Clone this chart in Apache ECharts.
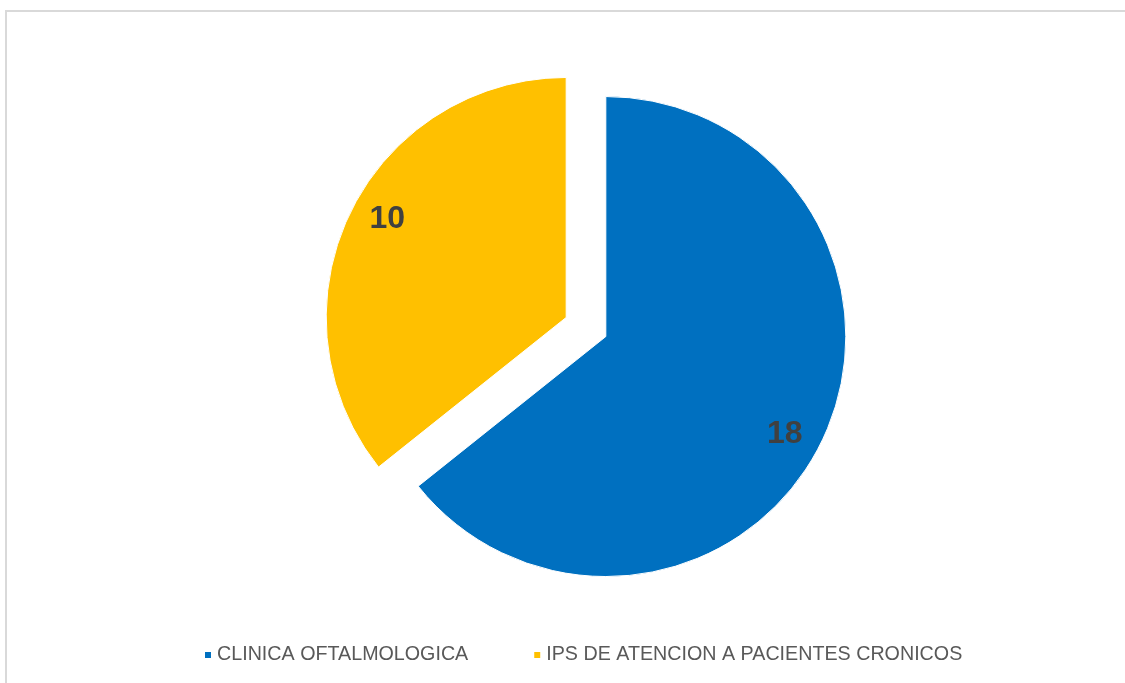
<!DOCTYPE html>
<html>
<head>
<meta charset="utf-8">
<script src="https://cdn.jsdelivr.net/npm/echarts@6/dist/echarts.min.js"></script>
<style>html,body{margin:0;padding:0;background:#fff}#c{width:1125px;height:683px}</style>
</head>
<body>
<div id="c"></div>
<script>
const categories = ['CLINICA OFTALMOLOGICA', 'IPS DE ATENCION A PACIENTES CRONICOS'];
const values = [18, 10];
const colors = ['#0070C0', '#FFC000'];

const chart = echarts.init(document.getElementById('c'));
const pieData = categories.map((n, i) => ({ name: n, value: values[i], selected: true, itemStyle: { color: colors[i] } }));
const ghostData = categories.map((n, i) => ({ name: n, value: values[i], selected: true }));

chart.setOption({
  animation: false,
  graphic: [{
    type: 'rect', silent: true, z: -1,
    shape: { x: 6, y: 11, width: 1300, height: 800 },
    style: { fill: 'none', stroke: '#D9D9D9', lineWidth: 2 }
  }],
  legend: {
    data: categories,
    left: 198, top: 640,
    icon: 'rect', itemWidth: 8, itemHeight: 8, itemGap: 64,
    textStyle: { color: '#595959', fontSize: 19.7, fontFamily: 'Liberation Sans' }
  },
  series: [{
    type: 'pie',
    center: [586, 327], radius: [0, 240],
    startAngle: 90, clockwise: true,
    selectedMode: 'multiple', selectedOffset: 22,
    emphasis: { disabled: true },
    itemStyle: { borderColor: '#fff', borderWidth: 1 },
    label: { show: false }, labelLine: { show: false },
    data: pieData
  }, {
    type: 'pie', silent: true,
    center: [586, 327], radius: [0, 402],
    startAngle: 87.3, clockwise: true,
    selectedMode: 'multiple', selectedOffset: 22,
    itemStyle: { color: 'rgba(0,0,0,0)' },
    label: { show: true, position: 'inside', formatter: '{c}', color: '#404040', fontSize: 32, fontWeight: 'bold', fontFamily: 'Liberation Sans' },
    labelLine: { show: false },
    data: ghostData
  }]
});
</script>
</body>
</html>
